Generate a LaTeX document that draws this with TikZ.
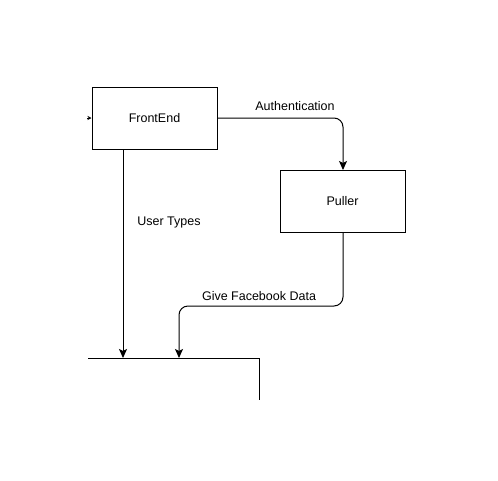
\documentclass[tikz,border=0pt]{standalone}
\usepackage{fontspec}
\setmainfont{Liberation Sans}
\usetikzlibrary{arrows.meta}
\begin{document}
\begin{tikzpicture}[x=1pt,y=-1pt,
  box/.style={draw,line width=1pt,minimum width=125pt,minimum height=62pt,inner sep=0pt,font=\fontsize{12.5}{14}\selectfont},
  conn/.style={line width=1pt,rounded corners=9pt,-{Stealth[length=9pt,width=8pt,inset=2pt]}},
  lbl/.style={font=\fontsize{12.5}{14}\selectfont,inner sep=0pt}]
\useasboundingbox (0,0) rectangle (498,480);
\node[box] (fe) at (154.5,118) {FrontEnd};
\node[box] (pu) at (342.5,201.5) {Puller};
\coordinate (in) at (87,118);
\draw[line width=1pt,-{Stealth[length=4pt,width=4pt]}] (in) -- (fe.west);
% datastore shape
\coordinate (dsL) at (88,358);
\coordinate (dsR) at (259,358);
\coordinate (dsB) at (259,400);
\draw[line width=1pt] (dsL) -- (dsR) -- (dsB);
\coordinate (ft1) at (123,358);
\coordinate (ft2) at (179,358);
\draw[conn] (fe.east) -- (343,118) -- (pu.north -| 343,0);
\draw[conn] (fe.south -| 123,0) -- (ft1);
\draw[conn] (pu.south -| 343,0) -- (343,306) -- (179,306) -- (ft2);
\node[lbl] (a) at (295,106.5) {Authentication};
\node[lbl] (u) at (169,222) {User Types};
\node[lbl] (g) at (259,296) {Give Facebook Data};
\end{tikzpicture}
\end{document}
